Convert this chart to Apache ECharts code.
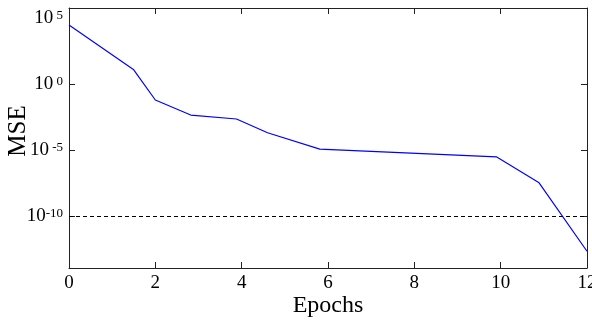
<!DOCTYPE html>
<html>
<head>
<meta charset="utf-8">
<script src="https://cdn.jsdelivr.net/npm/echarts@6/dist/echarts.min.js"></script>
<style>
  html, body { margin: 0; padding: 0; background: #fff; }
  #chart { width: 592px; height: 320px; }
</style>
</head>
<body>
<div id="chart"></div>
<script>
const epochs = [0, 1.5, 2, 2.82, 3.88, 4.6, 5.81, 9.9, 10.89, 12];
const mse = [3.2e4, 12.6, 0.0646, 4.68e-3, 2.34e-3, 2.14e-4, 1.23e-5, 3.16e-6, 3.39e-8, 2.19e-13];
const xTicks = [0, 2, 4, 6, 8, 10, 12];
const yLabelExps = [5, 0, -5, -10];
const yTickExps = [0, -5, -10];
const threshold = 1e-10;

const font = "Liberation Serif";
const axisColor = "#222";

const chart = echarts.init(document.getElementById("chart"));

// plotted on log10 scale, labels rendered as 10^n
const expLabel = (v) => {
  const e = Math.round(v);
  const pad = e > -10 ? " " : "";
  return "{b|10}{s|" + pad + e + "}";
};

const frameLine = { onZero: false, lineStyle: { color: axisColor, width: 1 } };

const option = {
  animation: false,
  grid: { left: 69, right: 5, top: 8, bottom: 52, containLabel: false, outerBoundsMode: "none" },
  xAxis: [
    {
      type: "value",
      min: 0,
      max: 12,
      name: "Epochs",
      nameLocation: "middle",
      nameGap: 26,
      nameMoveOverlap: false,
      nameTextStyle: { fontFamily: font, fontSize: 24, color: "#000" },
      axisLine: frameLine,
      axisTick: { inside: true, length: 6, customValues: xTicks, lineStyle: { color: axisColor } },
      axisLabel: { customValues: xTicks, margin: 6, fontFamily: font, fontSize: 19, color: "#000" },
      splitLine: { show: false },
    },
    {
      type: "value",
      position: "top",
      min: 0,
      max: 12,
      axisLine: frameLine,
      axisTick: { inside: true, length: 6, customValues: xTicks, lineStyle: { color: axisColor } },
      axisLabel: { show: false },
      splitLine: { show: false },
    },
  ],
  yAxis: [
    {
      type: "value",
      min: -13.93,
      max: 5.79,
      name: "MSE",
      nameLocation: "middle",
      nameGap: 38,
      nameMoveOverlap: false,
      nameTextStyle: { fontFamily: font, fontSize: 25, color: "#000", padding: [0, 0, 0, 14] },
      axisLine: { show: true, ...frameLine },
      axisTick: { show: true, inside: true, length: 6, customValues: yTickExps, lineStyle: { color: axisColor } },
      axisLabel: {
        customValues: yLabelExps,
        margin: 6,
        formatter: expLabel,
        rich: {
          b: { fontFamily: font, fontSize: 19, color: "#000" },
          s: { fontFamily: font, fontSize: 13, color: "#000", verticalAlign: "top" },
        },
      },
      splitLine: { show: false },
    },
    {
      type: "value",
      position: "right",
      min: -13.93,
      max: 5.79,
      axisLine: { show: true, ...frameLine },
      axisTick: { show: true, inside: true, length: 6, customValues: yTickExps, lineStyle: { color: axisColor } },
      axisLabel: { show: false },
      splitLine: { show: false },
    },
  ],
  series: [
    {
      type: "line",
      data: epochs.map((x, i) => [x, Math.log10(mse[i])]),
      showSymbol: false,
      lineStyle: { color: "#0000ff", width: 1.2 },
      z: 3,
      markLine: {
        silent: true,
        symbol: "none",
        label: { show: false },
        lineStyle: { color: "#000", width: 1, type: [4, 3] },
        data: [{ yAxis: Math.log10(threshold) }],
      },
    },
  ],
};

chart.setOption(option);
</script>
</body>
</html>
